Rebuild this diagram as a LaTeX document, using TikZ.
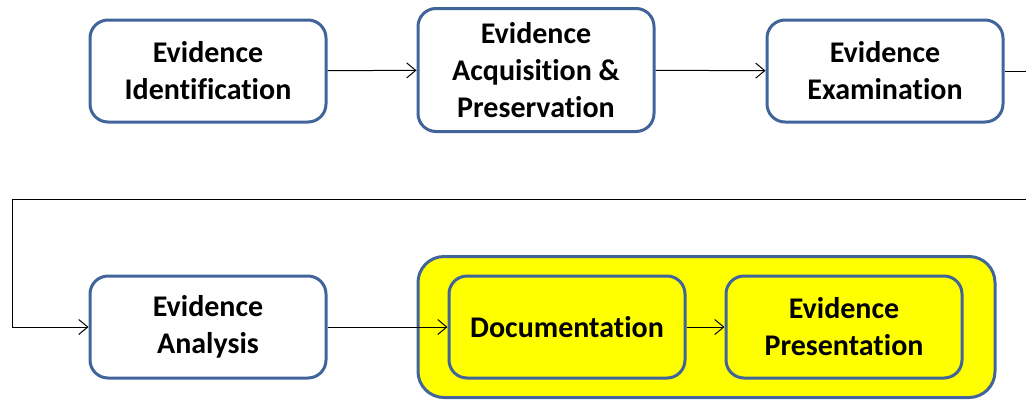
\documentclass[tikz,border=0pt]{standalone}
\usepackage{fontspec}
\setmainfont{Carlito}[Ligatures=NoCommon]
\usepackage{tikz}
\usetikzlibrary{arrows.meta, positioning}

\definecolor{BoxBlue}{HTML}{41659A}
\definecolor{HiYellow}{HTML}{FFFF00}

\begin{document}
\begin{tikzpicture}[x=1pt, y=1pt,
  >={Straight Barb[length=9pt, width=15pt]},
  stage/.style={rectangle, rounded corners=18pt, draw=BoxBlue, line width=3pt,
    fill=white, minimum width=236pt, minimum height=102pt, align=center,
    font=\fontsize{30}{37}\selectfont\bfseries, inner sep=2pt},
  %
  report/.style={stage, fill=HiYellow},
  %
  group/.style={rectangle, rounded corners=26pt, draw=BoxBlue, line width=3pt,
    fill=HiYellow, minimum width=577pt, minimum height=141pt},
  %
  link/.style={->, black, line width=1pt}
  ]

  \useasboundingbox (0,0) rectangle (1026,-400);

  % top row
  \node [stage] (ident) at (208,-71) {Evidence\\Identification};
  \node [stage, minimum height=123pt] (acquis) at (536,-70) {Evidence\\Acquisition \&\\Preservation};
  \node [stage] (exam) at (885,-71) {Evidence\\Examination};

  % bottom row
  \node [stage] (analysis) at (208,-327) {Evidence\\Analysis};
  \node [group] (reporting) at (706.5,-327) {};
  \node [report] (docu) at (567,-327) {Documentation};
  \node [report] (present) at (844,-327) {Evidence\\Presentation};

  \coordinate (outR) at (1045,-71);
  \coordinate (backL) at (12,-199);

  \begin{scope}
    \draw [link] (ident) -- (acquis);
    \draw [link] (acquis) -- (exam);
    \draw [link] (exam.east) -- (outR) |- (backL) |- (analysis.west);
    \draw [link] (analysis) -- (docu);
    \draw [link] (docu) -- (present);
  \end{scope}

\end{tikzpicture}
\end{document}
